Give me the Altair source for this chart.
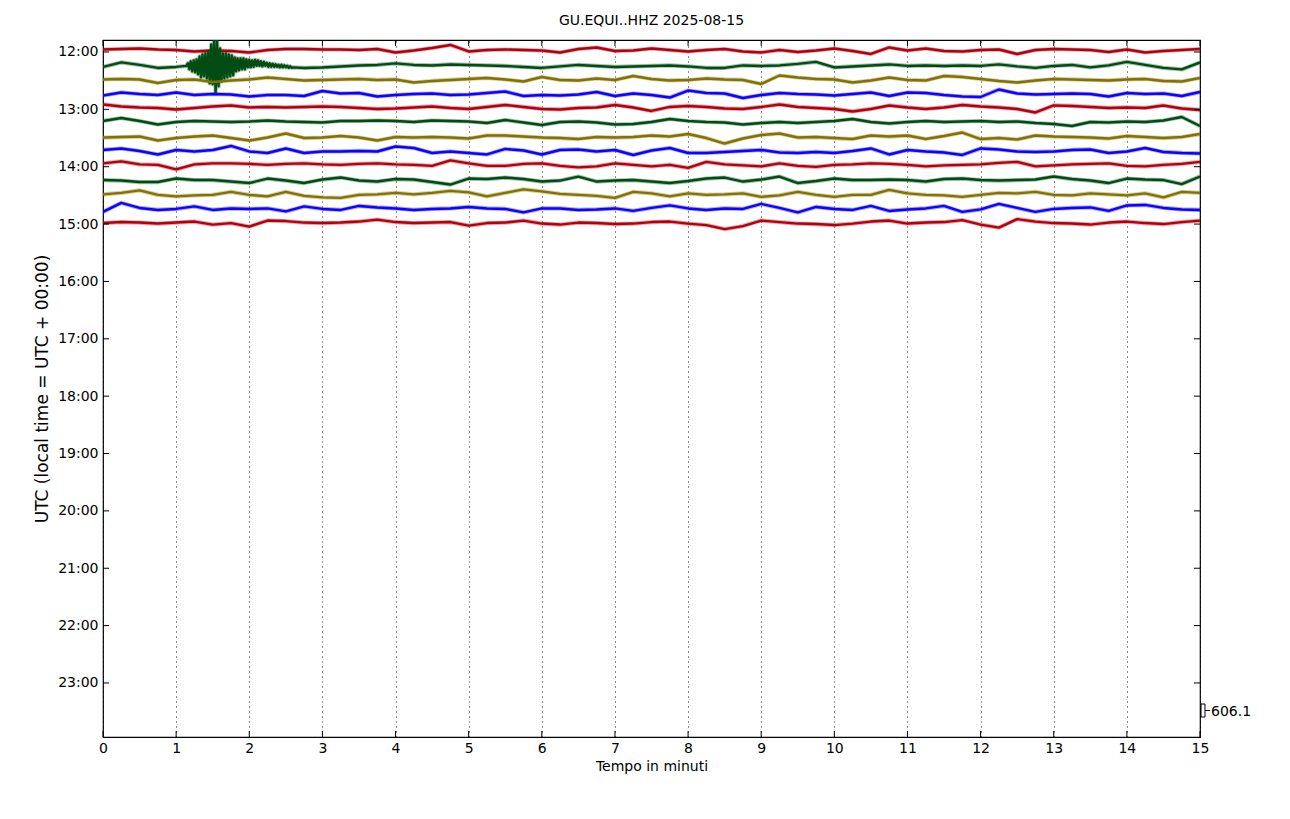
import altair as alt
import pandas as pd

# ---- data (deviations in screen-pixel-like amplitude units, positive = up) ----
trace_labels = ["12:00", "12:15", "12:30", "12:45", "13:00", "13:15", "13:30",
                "13:45", "14:00", "14:15", "14:30", "14:45", "15:00"]
trace_colors = ["#B2000F", "#004C12", "#847200", "#0E01FF"]

# sampled every 0.25 minutes, 0 .. 15
tr00 = [2.5, 3, 3.5, 2.5, 2, 0.5, 1.5, 1, -0.5, 2, 3, 3, 2.5, 2.5, 2, 3, -0.5, 1.5, 4, 7, 0.5,
        2, 2.5, 2, 1.5, -0.5, 3, 4.5, 1, 1.5, 3.5, 2, 0.5, 2, 3, 0.5, -0.5, 2, 0, 1.5, 3.5, 1, -2, 4.5, 1.5,
        3.5, 1, 0.5, 2, 2.5, -2, 2, 3, 2.5, 2, 0, 2.5, -0.5, 1, 2, 3]
tr01 = [-0.6, 3.9, 1.4, -1.6, -0.6, 0, 0, 1, 1.5, 2, 1, -1.6, -1.1, -0.1, 0.9, 1.4, 2.9, 1.4, 0.9, 1.9, 1.4,
        0.9, 0.4, -0.6, -1.6, -0.1, 1.4, 0.4, -0.6, -0.1, 0.4, 0.9, -0.1, -1.6, -1.6, 0.9, 0.4, 0.9, 2.4, 4.4, -1.1,
        -0.1, 0.9, 1.9, 0.4, 0.9, 0.4, 0.9, 0.4, 1.9, -0.1, -1.6, 0.4, 1.4, -1.1, 0.9, 4.4, 1.4, -1.6, -3.1, 3.9]
tr02 = [1.2, 1.7, 1.2, -2.3, 0.7, 1.2, -1.3, 0.2, 1.2, 3.2, 1.7, 0.2, 0.7, 1.2, 1.7, 0.7, 1.2, -1.8, -0.3, 0.7, 1.7,
        2.7, 1.2, -0.8, 3.7, 0.7, 0.2, 2.2, 0.7, 4.7, 1.7, 0.2, 0.7, 2.2, 1.2, 0.7, -3.3, 5.2, 3.2, 1.7, 1.2,
        -1.8, 0.2, 3.2, 0.7, 0.2, 4.7, 3.7, 1.7, -0.3, -1.8, 0.2, 1.7, 1.2, 0.7, 0.2, 1.2, 1.7, -0.3, -0.8, 2.7]
tr03 = [-0.5, 2.5, 1, 0, 2.5, 0, 1, 0.5, -1.5, 0, 0, -1, 4, 1.5, 2, -1.5, 0, 1, 1.5, 0, 0.5,
        2, 3.5, -1, 0, -0.5, 0.5, 3, -1, 1.5, 0, -2.5, 4.5, 2, 1.5, -3, 0, 2, 1, 0.5, -0.5,
        1, 2.5, -1, 2.5, 2, 0, -1.5, -2, 5.5, 1.5, 0.5, 1, 1.5, 1, -1.5, 2, 1, 1.5, -1, 3]
tr04 = [4.9, 2.9, 1.9, 1.4, -0.1, 1.4, 2.9, 3.9, 1.9, 2.4, 1.9, 2.4, 2.9, 2.4, 1.4, 0.4, 0.9, 1.9, 2.9, 1.4, 0.4,
        2.4, 4.4, 2.4, 0.4, -0.1, 1.4, 1.9, 4.4, 1.9, -1.6, 2.4, 3.4, 2.4, 0.9, 0.4, 2.4, 4.9, 2.4, 1.4, 0.4,
        -2.1, 0.4, 3.9, 1.9, 0.4, 1.9, 4.4, 2.9, 1.9, 0.4, -3.1, 3.9, 3.4, 2.4, 1.4, 1.9, 1.4, 3.9, 0.9, -0.6]
tr05 = [2.7, 5.7, 2.7, -0.8, 1.7, 2.7, 2.2, 1.7, 2.2, 3.2, 2.2, 1.7, 1.2, 2.7, 2.7, 3.2, 2.7, 1.7, 3.2, 2.7, 2.2,
        0.7, 3.7, 1.2, -1.3, 1.7, 2.2, 1.2, -0.8, -0.3, 1.7, 4.7, 2.7, 1.7, 1.2, -0.8, 0.7, 1.7, 0.7, 1.7, 2.7,
        4.7, 1.7, 0.2, 1.7, 2.7, 1.7, 2.2, 2.7, 1.7, 2.2, 0.7, -0.3, -2.3, 1.7, 1.2, 2.2, 1.7, 3.2, 6.7, -2.3]
tr06 = [0.5, 1, 1.5, -2.5, 0, 1.5, 2.5, 0, -2.5, 0.5, 4.5, 0, 0.5, 2, 0.5, -2.5, 1, 0.5, 1, 0.5, -0.5,
        2.5, 2.5, 1.5, 0.5, 0, -1, 1, 0.5, 1, 2.5, 1.5, 4, 0, -5.5, -0.5, 3, 4.5, 0.5, 1, 0,
        -1, 2.5, 1.5, 2.5, -1, 2, 5.5, -1, 0, -1.5, 2.5, 1.5, 1, 0.5, -0.5, 2, 1, 0, 1, 4]
tr07 = [2.4, 3.9, 1.4, -2.1, 2.4, 0.9, 2.4, 6.4, 0.9, -0.6, 3.9, -0.6, 0.9, 0.9, 1.4, 0.9, 5.9, 4.4, -0.6, 0.9, -0.6,
        -2.1, 3.4, 1.9, -2.1, 2.4, 2.9, 0.9, 2.4, -2.6, 1.9, 4.4, -0.6, -0.6, 0.4, 1.4, 2.4, -0.1, -0.6, 0.4, -0.6,
        1.4, 3.9, -2.1, 2.4, 0.9, -0.1, -2.6, 3.9, 2.9, 0.9, 0.4, 0.9, 2.4, 2.9, -0.6, 0.9, 4.4, 0.4, -0.6, -1.1]
tr08 = [3.3, 5.3, 2.3, 1.8, -2.7, 2.3, 3.3, 3.3, 2.8, 1.8, 2.8, 3.3, 2.3, 1.8, 2.8, 3.3, 2.3, 1.8, 0.8, 6.3, 3.3,
        0.8, 0.8, 2.8, 3.3, 0.8, -0.7, 0.3, 3.3, 1.8, 0.3, 1.8, -1.2, 4.8, 2.3, 1.3, 0.3, 3.3, 0.8, -0.2, 1.8,
        2.3, 3.3, 2.8, 1.8, 0.3, 1.3, 1.8, 2.3, 3.8, 4.8, 0.3, 1.3, 2.3, 2.8, 3.3, 0.8, 0.3, 1.8, 2.8, 4.8]
tr09 = [1, 0.5, -1, -1, 2.5, 1, 1, -0.5, -2, 2.5, 0.5, -2, 1.5, 3.5, 0.5, -0.5, 2, 1.5, -1, -3.5, 2.5,
        2, 3.5, 2, -0.5, 0.5, 4.5, -0.5, 0.5, 1, -0.5, -2, 0, 2.5, 3.5, -0.5, 1.5, 4.5, -2, 0, 2.5,
        1, 1, 1.5, 1, -0.5, 2, 2.5, 1, 0.5, 1, 1.5, 4.5, 2, 0.5, -2, 2.5, 1.5, 1, -3, 4.5]
tr10 = [1, 2.5, 5, 0.5, -1, 0, 0.5, 3.5, 0.5, -1, 3.5, -0.5, -2, -2.5, 0.5, 1, 2.5, 1, 2.5, 4.5, 3,
        -1, 2.5, 6, 4, 1.5, 0.5, -0.5, -2.5, 3.5, 2, -1, 2, 0.5, 1, 2, -1.5, 0, 3.5, 0.5, -1.5,
        0.5, 0.5, 5.5, 2, 0.5, 0, -1.5, 0.5, 2.5, 2, 3.5, 0.5, 0, 2, 1, 0, 2, -2, 3.5, 2.5]
tr11 = [-2.2, 6.8, 1.8, -0.2, 0.8, 3.3, -0.2, 1.3, 0.8, 1.3, -1.7, 3.3, 0.8, -0.2, 3.8, 2.3, 1.3, -0.2, 0.8, 1.3, 2.8,
        1.3, 0.8, -2.7, 1.3, 1.3, -0.2, 0.3, 1.3, -1.2, 1.8, 4.3, 1.3, -0.2, 1.3, 0.8, 5.8, 1.8, -2.7, 2.8, 0.8,
        -0.2, 3.8, -1.2, 0.3, 1.3, 3.8, -2.2, 0.3, 5.8, 1.8, -2.2, 0.8, 1.8, 2.3, -1.2, 4.3, 4.8, 1.8, 0.3, -0.2]
tr12 = [1, 2, 1.5, 0.5, 1.5, 2.5, -0.5, 1, -2.5, 3.5, 3, 1.5, 1, 1.5, 2.5, 4.5, 2, 1, 1.5, 2, -1.5,
        1, 1.5, 3.5, 0.5, -0.5, 1.5, 1, 0, 0.5, 2, 2.5, 0.5, -1, -5, -2, 3.5, 2, 0.5, 0, -1,
        0.5, 2.5, 3.5, 0.5, 1.5, 2, 4, -0.5, -3.5, 5, 2.5, 1, 0.5, -0.5, 1.5, 2.5, 1, 0, 2, 3.5]

# earthquake on the 12:15 trace, sampled every 0.02 minutes from 1.14 to 2.60
quake_start = 1.14
quake_step = 0.02
quake = [0.5, 3, -3, 5, -5, 6, -6, 7, -8, 10, -11, 12, -10, 13, -12, 15, -17, 22, -18, 28,
         -27, 26, -20, 18, -15, 13, -12, 13, -11, 12, -10, 11, -9, 9, -5, 8, -4, 8, -3, 8,
         -3, 7, -1, 6.5, -1, 6, -0.5, 6.5, 0.5, 6, 0.5, 5, 0, 4.5, 0.5, 3.5, -0.5, 3, -0.5, 2.5,
         -0.5, 2, -0.5, 1.5, -1, 1.5, -1, 1, -1, 0.5, -1.5, 0, -1.5, -1]

traces = [tr00, tr01, tr02, tr03, tr04, tr05, tr06, tr07, tr08, tr09, tr10, tr11, tr12]
hour_ticks = list(range(12))           # 12:00 .. 23:00
minute_ticks = list(range(16))         # 0 .. 15
scale_value = "606.1"

PX_PER_HOUR = 57.36
W, H = 1097, 697

rows = []
quake_end = quake_start + quake_step * (len(quake) - 1)
for k, devs in enumerate(traces):
    pts = []
    for i, d in enumerate(devs):
        t = i * 0.25
        if k == 1 and quake_start - 1e-9 <= t <= quake_end + 1e-9:
            continue
        pts.append((t, d))
    if k == 1:
        pts += [(quake_start + j * quake_step, d) for j, d in enumerate(quake)]
        pts.sort()
    for t, d in pts:
        rows.append({"t": t, "v": k * 0.25 - d / PX_PER_HOUR, "trace": f"{k:02d}"})
df = pd.DataFrame(rows)

trace_ids = [f"{k:02d}" for k in range(len(traces))]
color_range = [trace_colors[k % 4] for k in range(len(traces))]

xscale = alt.Scale(domain=[0, 15], nice=False, zero=False)
yscale = alt.Scale(domain=[-0.209, 11.942], reverse=True, nice=False, zero=False)
cscale = alt.Scale(domain=trace_ids, range=color_range)

FONT = "DejaVu Sans"

xaxis = alt.Axis(values=minute_ticks, format="d", title="Tempo in minuti", grid=True,
                 gridColor="black", gridDash=[1, 4], gridWidth=1, gridOpacity=0.9,
                 tickSize=0, labelPadding=4, labelFontSize=14, labelColor="black",
                 labelFlush=False,
                 titleFontSize=14, titleFontWeight="normal", titleColor="black",
                 titlePadding=4, labelFont=FONT, titleFont=FONT, domain=False)
yaxis = alt.Axis(values=hour_ticks, labelExpr="(12 + datum.value) + ':00'",
                 title="UTC (local time = UTC + 00:00)", grid=False, tickSize=0,
                 labelPadding=5, labelFontSize=14, labelColor="black", labelFlush=False,
                 titleFontSize=17, titleFontWeight="normal", titleColor="black",
                 titlePadding=6, labelFont=FONT, titleFont=FONT, domain=False)

halo = alt.Chart(df).mark_line(strokeWidth=4.2, opacity=0.35, clip=True, strokeJoin="round").encode(
    x=alt.X("t:Q", scale=xscale, axis=xaxis),
    y=alt.Y("v:Q", scale=yscale, axis=yaxis),
    color=alt.Color("trace:N", scale=cscale, legend=None),
    detail="trace:N",
)
lines = alt.Chart(df).mark_line(strokeWidth=2.4, clip=True, strokeJoin="round").encode(
    x=alt.X("t:Q", scale=xscale),
    y=alt.Y("v:Q", scale=yscale),
    color=alt.Color("trace:N", scale=cscale, legend=None),
    detail="trace:N",
)

ydf = pd.DataFrame({"v": hour_ticks})
xdf = pd.DataFrame({"t": minute_ticks})
left_ticks = alt.Chart(ydf).mark_rule(color="black", strokeWidth=1).encode(
    y=alt.Y("v:Q", scale=yscale), x=alt.value(0), x2=alt.value(6))
right_ticks = alt.Chart(ydf).mark_rule(color="black", strokeWidth=1).encode(
    y=alt.Y("v:Q", scale=yscale), x=alt.value(W - 6), x2=alt.value(W))
bottom_ticks = alt.Chart(xdf).mark_rule(color="black", strokeWidth=1).encode(
    x=alt.X("t:Q", scale=xscale), y=alt.value(H - 6), y2=alt.value(H))
top_ticks = alt.Chart(xdf).mark_rule(color="black", strokeWidth=1).encode(
    x=alt.X("t:Q", scale=xscale), y=alt.value(0), y2=alt.value(6))

one = pd.DataFrame({"a": [0]})
scale_box = alt.Chart(one).mark_rect(fill="white", stroke="black", strokeWidth=1).encode(
    x=alt.value(W + 1), x2=alt.value(W + 5), y=alt.value(664), y2=alt.value(677))
scale_tick = alt.Chart(one).mark_rule(color="black", strokeWidth=1).encode(
    x=alt.value(W + 5), x2=alt.value(W + 10), y=alt.value(670.5))
scale_text = alt.Chart(one).mark_text(align="left", baseline="middle", fontSize=14,
                                      font=FONT, color="black").encode(
    x=alt.value(W + 11), y=alt.value(672), text=alt.value(scale_value))

chart = alt.layer(halo, lines, left_ticks, right_ticks, bottom_ticks, top_ticks,
                  scale_box, scale_tick, scale_text).properties(
    width=W, height=H,
    title=alt.TitleParams("GU.EQUI..HHZ 2025-08-15", fontSize=14, fontWeight="normal",
                          font=FONT, color="black", anchor="middle", offset=12),
    autosize=alt.AutoSizeParams(type="none"),
    padding={"left": 95, "top": 32, "right": 80, "bottom": 70},
).configure(background="white").configure_view(stroke="black", strokeWidth=1.2)

chart.save("out.html", embed_options={"renderer": "svg", "actions": False})
